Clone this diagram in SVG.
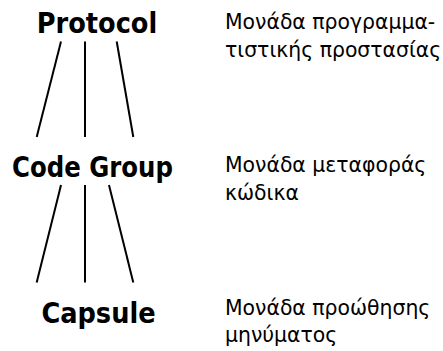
<svg xmlns="http://www.w3.org/2000/svg" width="443" height="351" viewBox="0 0 443 351">
  <style>
    .layer { font-family: "DejaVu Sans Condensed", "DejaVu Sans", sans-serif; font-weight: bold; font-size: 28.5px; fill: #000; text-anchor: middle; }
    .desc { font-family: "DejaVu Sans", Verdana, sans-serif; font-size: 20.4px; fill: #000; }
    .link { stroke: #000; stroke-width: 2; fill: none; }
  </style>
  <rect width="443" height="351" fill="#fff"/>

  <g id="protocol">
    <text class="layer" x="97" y="33">Protocol</text>
    <text class="desc" x="225" y="28.5">Μονάδα προγραμμα-</text>
    <text class="desc" x="225" y="56.5">τιστικής προστασίας</text>
  </g>

  <g id="code-group">
    <text class="layer" x="92.5" y="176.5" textLength="161" lengthAdjust="spacingAndGlyphs">Code Group</text>
    <text class="desc" x="225" y="171.5">Μονάδα μεταφοράς</text>
    <text class="desc" x="225" y="199.5">κώδικα</text>
  </g>

  <g id="capsule">
    <text class="layer" x="98.5" y="323">Capsule</text>
    <text class="desc" x="225" y="315">Μονάδα προώθησης</text>
    <text class="desc" x="225" y="342">μηνύματος</text>
  </g>

  <g id="connectors">
    <line class="link" x1="61" y1="41.5" x2="36.7" y2="137"/>
    <line class="link" x1="85" y1="41.5" x2="85" y2="137"/>
    <line class="link" x1="116.7" y1="41.5" x2="133.3" y2="137"/>
    <line class="link" x1="61" y1="185" x2="36.7" y2="282.5"/>
    <line class="link" x1="85" y1="185" x2="85" y2="282.5"/>
    <line class="link" x1="109" y1="185" x2="133.3" y2="282.5"/>
  </g>
</svg>
